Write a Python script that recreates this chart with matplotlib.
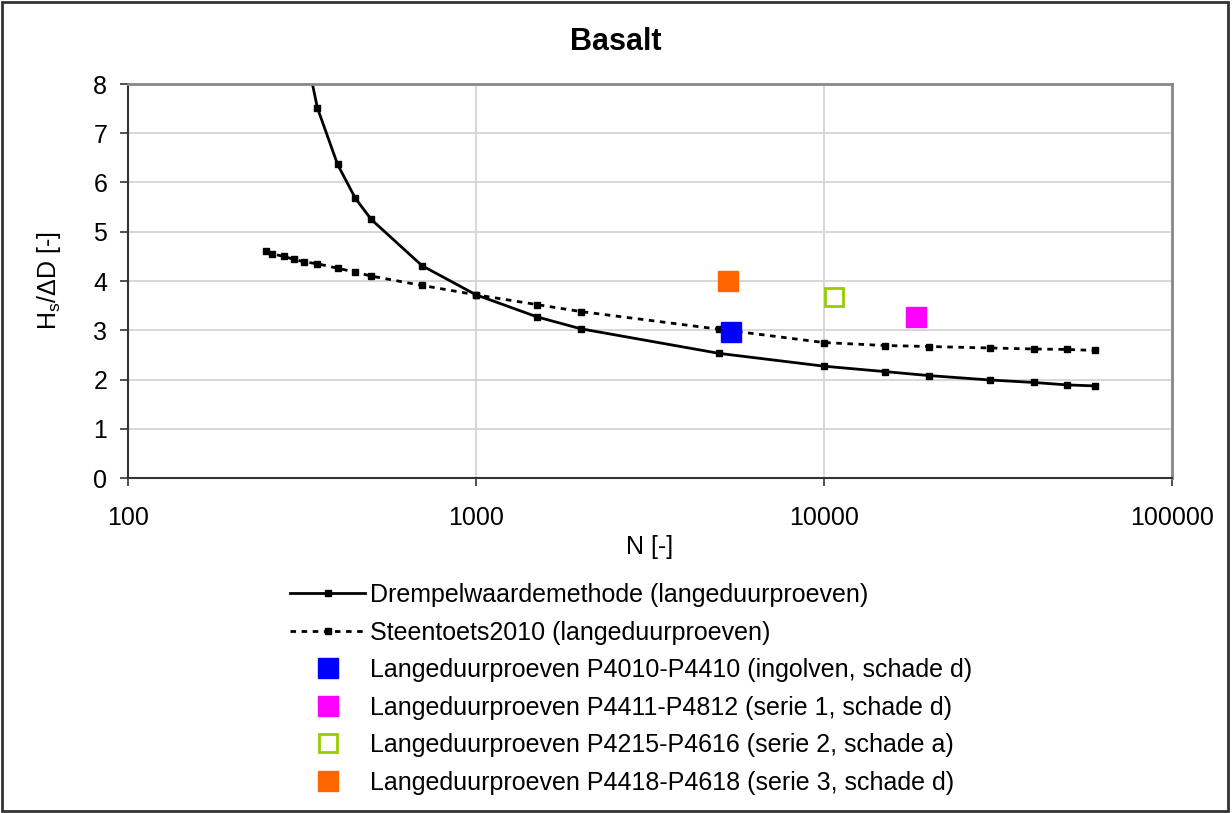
import matplotlib
matplotlib.use('Agg')
import matplotlib.pyplot as plt
from matplotlib.patches import Rectangle
from matplotlib.ticker import FixedLocator, FixedFormatter, NullLocator

plt.rcParams['font.family'] = ['Liberation Sans', 'DejaVu Sans']

# --- data ---
drempel_n = [300, 350, 400, 450, 500, 700, 1000, 1500, 2000, 5000, 10000,
             15000, 20000, 30000, 40000, 50000, 60000]
drempel_y = [9.8, 7.52, 6.37, 5.68, 5.25, 4.31, 3.72, 3.27, 3.03, 2.53, 2.27,
             2.16, 2.08, 1.99, 1.94, 1.89, 1.87]

steen_n = [250, 260, 280, 300, 320, 350, 400, 450, 500, 700, 1000, 1500,
           2000, 5000, 10000, 15000, 20000, 30000, 40000, 50000, 60000]
steen_y = [4.60, 4.55, 4.50, 4.44, 4.39, 4.35, 4.26, 4.18, 4.10, 3.91, 3.72,
           3.52, 3.38, 3.02, 2.75, 2.69, 2.67, 2.64, 2.62, 2.61, 2.59]

p4010_n, p4010_y = [5400], [2.96]
p4411_n, p4411_y = [18400], [3.27]
p4215_n, p4215_y = [10700], [3.67]
p4418_n, p4418_y = [5300], [4.00]

xticks = [100, 1000, 10000, 100000]
xticklabels = ['100', '1000', '10000', '100000']
yticks = [0, 1, 2, 3, 4, 5, 6, 7, 8]

# --- figure ---
fig = plt.figure(figsize=(12.32, 8.13), dpi=100)
ax = fig.add_axes([128 / 1232, 1 - 478 / 813, (1172 - 128) / 1232, (478 - 84) / 813])

ax.plot(drempel_n, drempel_y, color='black', lw=2, marker='s', ms=5,
        label='Drempelwaardemethode (langeduurproeven)')
ax.plot(steen_n, steen_y, color='black', lw=2, ls=(0, (2, 2)), marker='s', ms=5,
        label='Steentoets2010 (langeduurproeven)')
ax.plot(p4010_n, p4010_y, ls='none', marker='s', ms=14, color='#0000ff',
        label='Langeduurproeven P4010-P4410 (ingolven, schade d)')
ax.plot(p4411_n, p4411_y, ls='none', marker='s', ms=14, color='#ff00ff',
        label='Langeduurproeven P4411-P4812 (serie 1, schade d)')
ax.plot(p4215_n, p4215_y, ls='none', marker='s', ms=13, mfc='white',
        mec='#99cc00', mew=2, label='Langeduurproeven P4215-P4616 (serie 2, schade a)')
ax.plot(p4418_n, p4418_y, ls='none', marker='s', ms=14, color='#ff6600',
        label='Langeduurproeven P4418-P4618 (serie 3, schade d)')

ax.set_xscale('log')
ax.set_xlim(100, 100000)
ax.set_ylim(0, 8)
ax.xaxis.set_major_locator(FixedLocator(xticks))
ax.xaxis.set_major_formatter(FixedFormatter(xticklabels))
ax.xaxis.set_minor_locator(NullLocator())
ax.set_yticks(yticks)

ax.grid(True, color='#d4d4d4', lw=1.3)
ax.set_axisbelow(True)
for s in ['top', 'right']:
    ax.spines[s].set_color('#888888')
    ax.spines[s].set_linewidth(2)
for s in ['left', 'bottom']:
    ax.spines[s].set_color('#333333')
    ax.spines[s].set_linewidth(1.5)
ax.tick_params(axis='both', direction='out', length=6, width=1.2, color='#333333',
               labelsize=18)
ax.tick_params(axis='x', pad=14)
ax.tick_params(axis='y', pad=9)

ax.set_xlabel('N [-]', fontsize=18, labelpad=4)
ax.set_ylabel('H$_\\mathregular{s}$/ΔD [-]', fontsize=18, labelpad=22)

fig.text(0.5, 1 - 42 / 813, 'Basalt', ha='center', va='center',
         fontsize=22, fontweight='bold')

ax.legend(loc='upper left', bbox_to_anchor=(280 / 1232, 1 - 573 / 813),
          bbox_transform=fig.transFigure, frameon=False, fontsize=18,
          handlelength=3.0, handletextpad=0.2, labelspacing=0.54,
          borderaxespad=0, numpoints=1)

fig.patches.append(Rectangle((0.002, 0.003), 0.995, 0.994, transform=fig.transFigure,
                             fill=False, edgecolor='#333333', lw=2))

fig.savefig('out.png', dpi=100)
